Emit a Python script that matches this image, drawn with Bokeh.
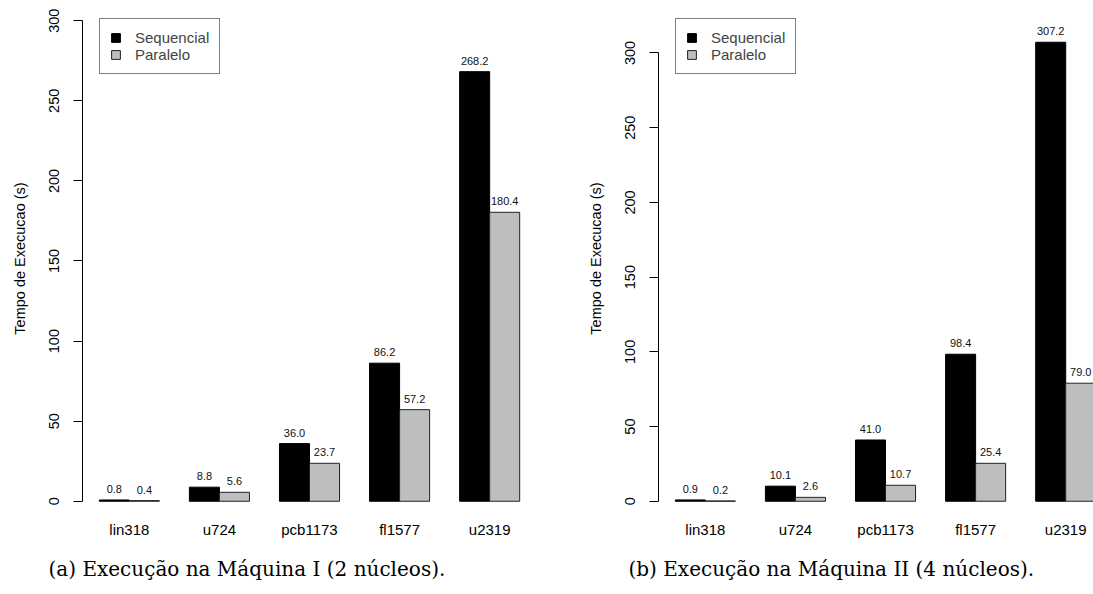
import numpy as np
from bokeh.plotting import figure
from bokeh.layouts import row
from bokeh.models import (ColumnDataSource, FixedTicker, Legend, LegendItem, Title,
                          Range1d)
from bokeh.embed import file_html
from bokeh.resources import INLINE

# ---------------- data ----------------
categories = ["lin318", "u724", "pcb1173", "fl1577", "u2319"]
seq_m1 = [0.8, 8.8, 36.0, 86.2, 268.2]
par_m1 = [0.4, 5.6, 23.7, 57.2, 180.4]
seq_m2 = [0.9, 10.1, 41.0, 98.4, 307.2]
par_m2 = [0.2, 2.6, 10.7, 25.4, 79.0]
y_ticks = [0, 50, 100, 150, 200, 250, 300]
series_names = ["Sequencial", "Paralelo"]
captions = ["(a) Execução na Máquina I (2 núcleos).",
            "(b) Execução na Máquina II (4 núcleos)."]
ylabel = "Tempo de Execucao (s)"

SANS = "Liberation Sans"
SERIF = "DejaVu Serif"
GRAY = "#BEBEBE"

FRAME_BOTTOM = 518      # px from top of the 594 px canvas
ZERO_PX = 502.7         # where y = 0 sits


def make_panel(seq, par, caption, width, border_right, x_end, px_per_unit, cap_offset):
    n = len(categories)
    idx = np.arange(n)
    # R barplot(beside=TRUE): bars of width 1, one unit gap between groups
    x_seq = 3 * idx + 1.5
    x_par = 3 * idx + 2.5
    centers = 3 * idx + 2.0

    y_start = -(FRAME_BOTTOM - ZERO_PX) / px_per_unit
    y_end = y_start + FRAME_BOTTOM / px_per_unit

    p = figure(width=width, height=594, output_backend="svg", toolbar_location=None,
               x_range=Range1d(0.44, x_end), y_range=Range1d(y_start, y_end),
               min_border_left=82, min_border_right=border_right,
               min_border_top=0, min_border_bottom=594 - FRAME_BOTTOM)
    p.outline_line_color = None
    p.grid.visible = False
    p.background_fill_color = "white"
    p.border_fill_color = "white"

    src_s = ColumnDataSource(dict(x=x_seq, top=seq, lab=[f"{v:.1f}" for v in seq]))
    src_p = ColumnDataSource(dict(x=x_par, top=par, lab=[f"{v:.1f}" for v in par]))
    r_s = p.vbar(x="x", top="top", bottom=0, width=1.0, source=src_s,
                 fill_color="black", line_color="black", line_width=1)
    r_p = p.vbar(x="x", top="top", bottom=0, width=1.0, source=src_p,
                 fill_color=GRAY, line_color="#222222", line_width=1)

    for src in (src_s, src_p):
        p.text(x="x", y="top", text="lab", source=src, text_align="center",
               text_baseline="middle", y_offset=-11, text_font_size="11px",
               text_font={"value": SANS}, text_color="#111111")

    # y axis (R style, limited to tick range)
    ya = p.yaxis[0]
    ya.ticker = FixedTicker(ticks=y_ticks)
    ya.bounds = (0, 300)
    ya.axis_line_color = "black"
    ya.major_tick_line_color = "black"
    ya.minor_tick_line_color = None
    ya.major_tick_in = 0
    ya.major_tick_out = 9
    ya.major_label_orientation = "vertical"
    ya.major_label_text_font = SANS
    ya.major_label_text_font_size = "14.5px"
    ya.major_label_text_color = "black"
    ya.major_label_standoff = 14
    ya.axis_label = ylabel
    ya.axis_label_text_font = SANS
    ya.axis_label_text_font_style = "normal"
    ya.axis_label_text_font_size = "14.5px"
    ya.axis_label_text_color = "black"
    ya.axis_label_standoff = 19

    # x axis: category names only
    xa = p.xaxis[0]
    xa.ticker = FixedTicker(ticks=list(centers))
    xa.major_label_overrides = {float(c): name for c, name in zip(centers, categories)}
    xa.axis_line_color = None
    xa.major_tick_line_color = None
    xa.minor_tick_line_color = None
    xa.major_tick_in = 0
    xa.major_tick_out = 0
    xa.major_label_standoff = 4
    xa.major_label_text_font = SANS
    xa.major_label_text_font_size = "15px"
    xa.major_label_text_color = "black"

    legend = Legend(items=[LegendItem(label=series_names[0], renderers=[r_s]),
                           LegendItem(label=series_names[1], renderers=[r_p])],
                    location=(17, FRAME_BOTTOM - 76), orientation="vertical")
    legend.border_line_color = "black"
    legend.border_line_width = 1
    legend.background_fill_alpha = 1.0
    legend.padding = 10
    legend.spacing = 0
    legend.margin = 0
    legend.glyph_width = 11
    legend.glyph_height = 11
    legend.label_height = 17
    legend.label_standoff = 14
    legend.label_text_font = SANS
    legend.label_text_font_size = "15px"
    legend.label_text_baseline = "middle"
    p.add_layout(legend, "center")

    cap = Title(text=caption, align="left", offset=cap_offset, standoff=28,
                text_font=SERIF, text_font_size="20px", text_font_style="normal",
                text_color="black")
    p.add_layout(cap, "below")
    return p


# left: 1.608 px per unit, right: 1.5 px per unit; 30.03 px per bar width
p1 = make_panel(seq_m1, par_m1, captions[0], 576, 40, 15.56, 1.608, -34)
p2 = make_panel(seq_m2, par_m2, captions[1], 517, 0, 0.44 + 435 / 30.03, 1.5, -30)

layout = row(p1, p2)
open("out.html", "w").write(file_html(layout, INLINE))
